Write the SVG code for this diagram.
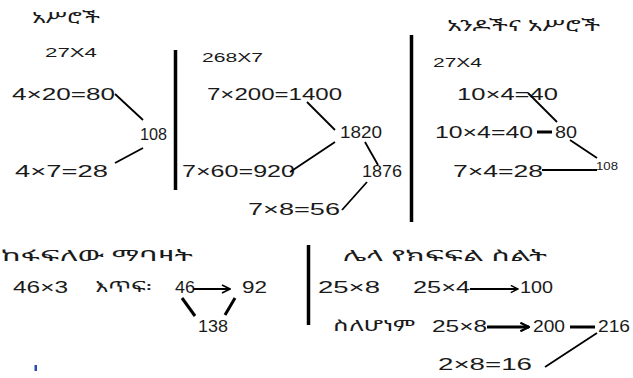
<svg xmlns="http://www.w3.org/2000/svg" width="633" height="378" viewBox="0 0 633 378">
<style>
text{font-family:"Liberation Sans",Arial,"Noto Sans Ethiopic","Abyssinica SIL",sans-serif;fill:#1a1a1a;}
.eth{font-family:"Noto Sans Ethiopic","Abyssinica SIL","Noto Sans","DejaVu Sans",sans-serif;font-size:15px;}
.n{font-size:16.5px;}
.s{font-size:13px;}
.t{font-size:10px;}
.ln{stroke:#000;stroke-width:1.8;fill:none;}
.thk{stroke:#000;stroke-width:3;fill:none;}
.bar{stroke:#000;stroke-width:3.5;}
</style>
<defs>
<marker id="chev" viewBox="0 0 10 10" refX="9" refY="5" markerWidth="5" markerHeight="5" orient="auto" markerUnits="strokeWidth">
<path d="M1,1 L9,5 L1,9" fill="none" stroke="#000" stroke-width="1.6"/>
</marker>
<marker id="chev2" viewBox="0 0 10 10" refX="9" refY="5" markerWidth="3.6" markerHeight="3.6" orient="auto" markerUnits="strokeWidth">
<path d="M1,1 L9,5 L1,9" fill="none" stroke="#000" stroke-width="2"/>
</marker>
</defs>

<g id="dividers">
<line class="bar" x1="175.5" y1="50" x2="175.5" y2="190"/>
<line class="bar" x1="411.5" y1="35" x2="411.5" y2="222"/>
<line class="bar" x1="308.5" y1="245" x2="308.5" y2="325"/>
</g>

<g id="sec1">
<g id="t1"><text class="eth" x="32" y="23" textLength="68" lengthAdjust="spacingAndGlyphs">አሥሮች</text></g>
<g id="p1"><text class="s" x="45" y="57" textLength="52" lengthAdjust="spacingAndGlyphs">27X4</text></g>
<g id="a1"><text class="n" x="12" y="100" textLength="103" lengthAdjust="spacingAndGlyphs">4×20=80</text></g>
<g id="b1"><text class="n" x="140" y="140" textLength="27" lengthAdjust="spacingAndGlyphs">108</text></g>
<g id="c1"><text class="n" x="15" y="177" textLength="93" lengthAdjust="spacingAndGlyphs">4×7=28</text></g>
</g>

<g id="sec2">
<g id="p2"><text class="s" x="202" y="62" textLength="61" lengthAdjust="spacingAndGlyphs">268X7</text></g>
<g id="a2"><text class="n" x="207" y="100" textLength="135" lengthAdjust="spacingAndGlyphs">7×200=1400</text></g>
<g id="b2"><text class="n" x="340" y="138" textLength="42" lengthAdjust="spacingAndGlyphs">1820</text></g>
<g id="c2"><text class="n" x="182" y="177" textLength="113" lengthAdjust="spacingAndGlyphs">7×60=920</text></g>
<g id="d2"><text class="n" x="362" y="177" textLength="40" lengthAdjust="spacingAndGlyphs">1876</text></g>
<g id="e2"><text class="n" x="248" y="215" textLength="92" lengthAdjust="spacingAndGlyphs">7×8=56</text></g>
</g>

<g id="sec3">
<g id="t3"><text class="eth" x="447" y="31" textLength="153" lengthAdjust="spacingAndGlyphs">አንዶችና አሥሮች</text></g>
<g id="p3"><text class="s" x="433" y="67" textLength="49" lengthAdjust="spacingAndGlyphs">27X4</text></g>
<g id="a3"><text class="n" x="457" y="100" textLength="101" lengthAdjust="spacingAndGlyphs">10×4=40</text></g>
<g id="b3"><text class="n" x="435" y="138" textLength="98" lengthAdjust="spacingAndGlyphs">10×4=40</text></g>
<g id="c3"><text class="n" x="555" y="138" textLength="22" lengthAdjust="spacingAndGlyphs">80</text></g>
<g id="d3"><text class="t" x="596" y="170" textLength="22" lengthAdjust="spacingAndGlyphs">108</text></g>
<g id="e3"><text class="n" x="453" y="177" textLength="90" lengthAdjust="spacingAndGlyphs">7×4=28</text></g>
</g>

<g id="sec4">
<g id="t4"><text class="eth" x="1" y="261" textLength="192" lengthAdjust="spacingAndGlyphs">ከፋፍለው ማባዛት</text></g>
<g id="p4"><text class="n" x="13" y="293" textLength="55" lengthAdjust="spacingAndGlyphs">46×3</text></g>
<g id="q4"><text class="eth" x="95" y="292" textLength="57" lengthAdjust="spacingAndGlyphs">እጥፍ፡</text></g>
<g id="a4"><text class="n" x="175" y="293" textLength="20" lengthAdjust="spacingAndGlyphs">46</text></g>
<g id="b4"><text class="n" x="242" y="293" textLength="25" lengthAdjust="spacingAndGlyphs">92</text></g>
<g id="c4"><text class="n" x="198" y="332" textLength="30" lengthAdjust="spacingAndGlyphs">138</text></g>
<g id="cursor"><rect x="34.5" y="365" width="2.5" height="6" fill="#2a4aa8"/></g>
</g>

<g id="sec5">
<g id="t5"><text class="eth" x="343" y="261" textLength="204" lengthAdjust="spacingAndGlyphs">ሌላ የክፍፍል ስልት</text></g>
<g id="p5"><text class="n" x="318" y="293" textLength="62" lengthAdjust="spacingAndGlyphs">25×8</text></g>
<g id="a5"><text class="n" x="413" y="293" textLength="57" lengthAdjust="spacingAndGlyphs">25×4</text></g>
<g id="b5"><text class="n" x="520" y="293" textLength="33" lengthAdjust="spacingAndGlyphs">100</text></g>
<g id="q5"><text class="eth" x="333" y="331" textLength="82" lengthAdjust="spacingAndGlyphs">ስለሆነም</text></g>
<g id="c5"><text class="n" x="432" y="332" textLength="55" lengthAdjust="spacingAndGlyphs">25×8</text></g>
<g id="d5"><text class="n" x="533" y="332" textLength="32" lengthAdjust="spacingAndGlyphs">200</text></g>
<g id="e5"><text class="n" x="598" y="332" textLength="32" lengthAdjust="spacingAndGlyphs">216</text></g>
<g id="f5"><text class="n" x="438" y="370" textLength="94" lengthAdjust="spacingAndGlyphs">2×8=16</text></g>
</g>

<g id="connectors">
<line class="ln" x1="115" y1="94" x2="143" y2="120"/>
<line class="ln" x1="115" y1="163" x2="143" y2="148"/>
<line class="ln" x1="307" y1="102" x2="335" y2="130"/>
<line class="ln" x1="335" y1="142" x2="290" y2="172"/>
<line class="ln" x1="365" y1="142" x2="378" y2="165"/>
<line class="ln" x1="367" y1="182" x2="342" y2="210"/>
<line class="ln" x1="528" y1="93" x2="557" y2="122"/>
<line class="thk" x1="537" y1="132" x2="552" y2="132"/>
<line class="ln" x1="570" y1="140" x2="597" y2="158"/>
<line class="ln" x1="542" y1="170" x2="597" y2="170"/>
<line class="ln" style="stroke-width:2" x1="193" y1="289" x2="230" y2="289" marker-end="url(#chev)"/>
<line class="thk" x1="182" y1="298" x2="195" y2="316"/>
<line class="thk" x1="235" y1="298" x2="225" y2="315"/>
<line class="ln" x1="470" y1="289" x2="518" y2="289" marker-end="url(#chev)"/>
<line class="thk" x1="487" y1="327" x2="529" y2="327" marker-end="url(#chev2)"/>
<line class="thk" x1="570" y1="327" x2="595" y2="327"/>
<line class="ln" x1="597" y1="333" x2="545" y2="367"/>
</g>
</svg>
